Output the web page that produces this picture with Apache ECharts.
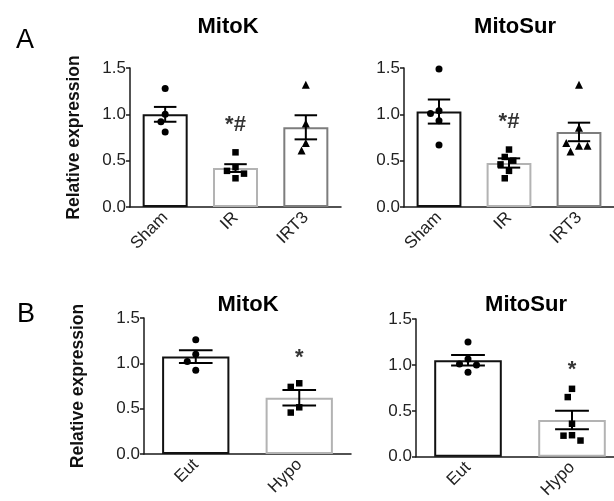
<!DOCTYPE html>
<html><head><meta charset="utf-8">
<script src="https://cdn.jsdelivr.net/npm/echarts@6/dist/echarts.min.js"></script>
<style>html,body{margin:0;padding:0;background:#fff;overflow:hidden}#c{width:640px;height:501px}</style>
</head><body><div id="c"></div>
<script>
// ---------------- data ----------------
const catsA = ['Sham', 'IR', 'IRT3'];
const catsB = ['Eut', 'Hypo'];
const yTickLabels = ['0.0', '0.5', '1.0', '1.5'];

// Panel A, MitoK
const aMitoKMean = [1.00, 0.42, 0.86];
const aMitoKSem  = [0.08, 0.042, 0.13];
const aMitoKSham = [1.28, 1.00, 0.92, 0.81];
const aMitoKIR   = [0.59, 0.43, 0.39, 0.36, 0.31];
const aMitoKIRT3 = [1.32, 0.90, 0.69, 0.61];

// Panel A, MitoSur
const aMitoSurMean = [1.03, 0.475, 0.81];
const aMitoSurSem  = [0.13, 0.05, 0.10];
const aMitoSurSham = [1.49, 1.04, 1.01, 0.93, 0.67];
const aMitoSurIR   = [0.62, 0.54, 0.50, 0.46, 0.39, 0.31];
const aMitoSurIRT3 = [1.32, 0.855, 0.66, 0.60, 0.66, 0.69];

// Panel B, MitoK
const bMitoKMean = [1.075, 0.62];
const bMitoKSem  = [0.07, 0.086];
const bMitoKEut  = [1.26, 1.10, 1.02, 0.925];
const bMitoKHypo = [0.78, 0.74, 0.515, 0.457];

// Panel B, MitoSur
const bMitoSurMean = [1.05, 0.40];
const bMitoSurSem  = [0.057, 0.10];
const bMitoSurEut  = [1.25, 1.065, 1.01, 1.0, 0.92];
const bMitoSurHypo = [0.74, 0.65, 0.36, 0.235, 0.23, 0.177];

// significance marks: [category index, level, text]
const aMitoKSig   = [[1, 0.89, '*#']];
const aMitoSurSig = [[1, 0.92, '*#']];
const bMitoKSig   = [[1, 1.06, '*']];
const bMitoSurSig = [[1, 0.95, '*']];

// ---------------- styling / layout ----------------
const FONT = 'Liberation Sans, Arial, sans-serif';
const AX = '#1a1a1a';
const barBorders = ['#111111', '#b3b3b3', '#7d7d7d'];
const symbols = ['circle', 'rect', 'triangle'];
const symSizes = [7, 6.5, 8];

const grids = [
  {left: 130, top: 68, width: 211, height: 139},
  {left: 404, top: 68, width: 210, height: 139},
  {left: 144, top: 318, width: 207, height: 136},
  {left: 416, top: 319, width: 208, height: 138}
];
const barWidths = ['64%', '64%', '65%', '65%'];

const panels = [
  {cats: catsA, mean: aMitoKMean, sem: aMitoKSem, pts: [aMitoKSham, aMitoKIR, aMitoKIRT3], sig: aMitoKSig, yname: true, nameGap: 47},
  {cats: catsA, mean: aMitoSurMean, sem: aMitoSurSem, pts: [aMitoSurSham, aMitoSurIR, aMitoSurIRT3], sig: aMitoSurSig, yname: false},
  {cats: catsB, mean: bMitoKMean, sem: bMitoKSem, pts: [bMitoKEut, bMitoKHypo], sig: bMitoKSig, yname: true, nameGap: 57},
  {cats: catsB, mean: bMitoSurMean, sem: bMitoSurSem, pts: [bMitoSurEut, bMitoSurHypo], sig: bMitoSurSig, yname: false}
];

// deterministic beeswarm: horizontal pixel offsets so markers don't overlap
function swarm(values, pxPerUnit, d) {
  const placed = [];
  return values.map(v => {
    const y = v * pxPerUnit;
    const cands = [0];
    for (let k = 1; k < 12; k++) cands.push(-k * d / 2, k * d / 2);
    for (const c of cands) {
      if (placed.every(p => Math.hypot(p.x - c, p.y - y) >= d)) {
        placed.push({x: c, y});
        return c;
      }
    }
    return 0;
  });
}

const xAxes = [], yAxes = [], series = [];
panels.forEach((p, gi) => {
  const g = grids[gi];
  xAxes.push({
    type: 'category', gridIndex: gi, data: p.cats,
    axisLine: {lineStyle: {color: AX, width: 1.5}},
    axisTick: {alignWithLabel: true, length: 5, lineStyle: {color: AX, width: 1.5}},
    axisLabel: {rotate: 45, fontSize: 17, color: '#222', fontFamily: FONT, margin: 8}
  });
  yAxes.push({
    type: 'value', gridIndex: gi, min: 0, max: 1.5, interval: 0.5,
    splitLine: {show: false},
    axisLine: {show: true, lineStyle: {color: AX, width: 1.5}},
    axisTick: {show: true, length: 4, lineStyle: {color: AX, width: 1.5}},
    axisLabel: {fontSize: 17, color: '#222', fontFamily: FONT, margin: 4,
      formatter: v => yTickLabels[Math.round(v / 0.5)]},
    name: p.yname ? 'Relative expression' : '',
    nameLocation: 'middle', nameRotate: 90, nameGap: p.nameGap || 40,
    nameTextStyle: {fontSize: 17.5, fontWeight: 'bold', color: '#111', fontFamily: FONT}
  });
  series.push({
    type: 'bar', xAxisIndex: gi, yAxisIndex: gi, barWidth: barWidths[gi], z: 2,
    data: p.mean.map((m, i) => ({value: m, itemStyle: {color: '#fff', borderColor: barBorders[i], borderWidth: 2}})),
    silent: true
  });
  const pxPerUnit = g.height / 1.5;
  const scatterData = [];
  p.pts.forEach((vals, ci) => {
    const offs = swarm(vals, pxPerUnit, 8.5);
    vals.forEach((v, k) => scatterData.push({
      value: [ci, v], symbol: symbols[ci], symbolSize: symSizes[ci], symbolOffset: [offs[k], 0]
    }));
  });
  series.push({
    type: 'scatter', xAxisIndex: gi, yAxisIndex: gi, z: 4,
    itemStyle: {color: '#000', opacity: 1}, data: scatterData, silent: true
  });
  const bw = parseFloat(barWidths[gi]) / 100;
  series.push({
    type: 'custom', xAxisIndex: gi, yAxisIndex: gi, z: 5, silent: true,
    data: p.mean.map((m, i) => [i, m, p.sem[i]]),
    renderItem: (params, api) => {
      const x = api.value(0), m = api.value(1), s = api.value(2);
      const top = api.coord([x, m + s]);
      const bot = api.coord([x, m - s]);
      const hw = api.size([1, 0])[0] * bw * 0.25;
      const st = {stroke: '#000', lineWidth: 2};
      return {type: 'group', children: [
        {type: 'line', shape: {x1: top[0], y1: top[1], x2: bot[0], y2: bot[1]}, style: st},
        {type: 'line', shape: {x1: top[0] - hw, y1: top[1], x2: top[0] + hw, y2: top[1]}, style: st},
        {type: 'line', shape: {x1: bot[0] - hw, y1: bot[1], x2: bot[0] + hw, y2: bot[1]}, style: st}
      ]};
    }
  });
  series.push({
    type: 'scatter', xAxisIndex: gi, yAxisIndex: gi, z: 6, symbolSize: 0, silent: true,
    data: p.sig.map(s => ({value: [s[0], s[1]], label: {show: true, formatter: s[2]}})),
    label: {position: 'inside', fontSize: 22, fontWeight: 'bold', color: '#000', fontFamily: FONT}
  });
});

const titleStyle = {fontSize: 22, fontWeight: 'bold', color: '#000', fontFamily: FONT};
const letterStyle = {fontSize: 27, fontWeight: 'normal', color: '#000', fontFamily: FONT};

const option = {
  animation: false,
  backgroundColor: '#fff',
  title: [
    {text: 'A', left: 11, top: 22, textStyle: letterStyle},
    {text: 'B', left: 12, top: 296, textStyle: letterStyle},
    {text: 'MitoK', left: 223, top: 11, textAlign: 'center', textStyle: titleStyle},
    {text: 'MitoSur', left: 510, top: 11, textAlign: 'center', textStyle: titleStyle},
    {text: 'MitoK', left: 243, top: 289, textAlign: 'center', textStyle: titleStyle},
    {text: 'MitoSur', left: 521, top: 289, textAlign: 'center', textStyle: titleStyle}
  ],
  grid: grids,
  xAxis: xAxes,
  yAxis: yAxes,
  series: series
};
const chart = echarts.init(document.getElementById('c'), null, {renderer: 'canvas'});
chart.setOption(option);
</script>
</body></html>
